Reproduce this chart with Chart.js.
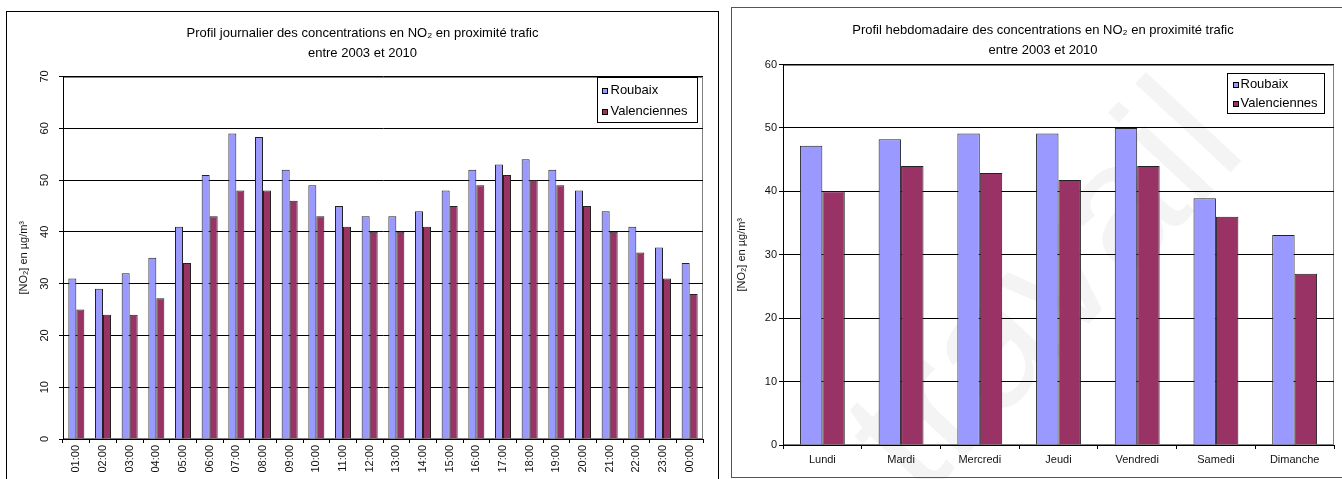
<!DOCTYPE html>
<html>
<head>
<meta charset="utf-8">
<script src="https://cdn.jsdelivr.net/npm/chart.js@4/dist/chart.umd.min.js"></script>
<style>
  html, body { margin:0; padding:0; background:#fff; width:1342px; height:479px; overflow:hidden; position:relative; }
  .box { position:absolute; background:transparent; z-index:1; }
  #boxL { left:6px; top:11px; width:711px; height:480px; border:1px solid #000; }
  #boxR { left:731px; top:7px; width:622px; height:469px; border:1px solid #555; }
  canvas { display:block; }
  #wm { position:absolute; left:1040px; top:285px; transform:translate(-50%,-50%) rotate(-47deg);
        font:180px "Liberation Sans", Arial, sans-serif; color:rgba(0,0,0,0.045); z-index:0; white-space:nowrap; }
</style>
</head>
<body>
<div id="wm">travail</div>
<div class="box" id="boxL"><canvas id="cL" width="711" height="480"></canvas></div>
<div class="box" id="boxR"><canvas id="cR" width="622" height="469"></canvas></div>
<script>
// ---------- data ----------
const hours = ['01:00','02:00','03:00','04:00','05:00','06:00','07:00','08:00','09:00','10:00','11:00','12:00',
               '13:00','14:00','15:00','16:00','17:00','18:00','19:00','20:00','21:00','22:00','23:00','00:00'];
const roubaixHourly      = [31,29,32,35,41,51,59,58.3,52,49,45,43,43,44,48,52,53,54,52,48,44,41,37,34];
const valenciennesHourly = [25,24,24,27.2,34,43,48,48,46,43,41,40,40,41,45,49,51,50,49,45,40,36,31,28];
const hourlyTicks = [0,10,20,30,40,50,60,70];

const days = ['Lundi','Mardi','Mercredi','Jeudi','Vendredi','Samedi','Dimanche'];
const roubaixWeekly      = [47.2,48.2,49.1,49.1,50,38.9,33.1];
const valenciennesWeekly = [40,44,42.9,41.8,44,36,27];
const weeklyTicks = [0,10,20,30,40,50,60];

const seriesNames = ['Roubaix','Valenciennes'];
const seriesColors = ['#9999FF','#993366'];

const titleDaily  = ['Profil journalier des concentrations en NO\u2082 en proximité trafic','entre 2003 et 2010'];
const titleWeekly = ['Profil hebdomadaire des concentrations en NO\u2082 en proximité trafic','entre 2003 et 2010'];
const yAxisTitle = '[NO\u2082] en µg/m³';

// ---------- plugins ----------
const FONT = "'Liberation Sans', Arial, sans-serif";

const plotFrame = {
  id:'plotFrame',
  beforeDraw(chart){
    const {ctx, chartArea:ca} = chart;
    ctx.save();
    ctx.strokeStyle = '#808080';
    ctx.lineWidth = 1;
    const l = Math.round(ca.left)+0.5, r = Math.round(ca.right)-0.5;
    const t = Math.round(ca.top)+0.5, b = Math.round(ca.bottom)-0.5;
    ctx.strokeRect(l, t, r-l, b-t);
    ctx.restore();
  }
};

const boxLegend = {
  id:'boxLegend',
  afterDraw(chart, args, o){
    if (!o || !o.show) return;
    const {ctx, chartArea:ca} = chart;
    const x = Math.round(ca.right - o.marginRight - o.width) + 0.5;
    const y = Math.round(ca.top + o.marginTop) + 0.5;
    ctx.save();
    ctx.fillStyle = '#fff';
    ctx.fillRect(x, y, o.width, o.height);
    ctx.strokeStyle = '#000';
    ctx.lineWidth = 1;
    ctx.strokeRect(x, y, o.width, o.height);
    ctx.font = '13px ' + FONT;
    ctx.textBaseline = 'middle';
    ctx.textAlign = 'left';
    const rows = [o.row1, o.row2];
    chart.data.datasets.forEach((ds, i) => {
      const cy = y + rows[i];
      const s = o.swatch;
      const sx = Math.round(x + o.swatchX), sy = Math.round(cy - s/2);
      ctx.fillStyle = ds.backgroundColor;
      ctx.fillRect(sx, sy, s, s);
      ctx.strokeStyle = '#000';
      ctx.strokeRect(sx+0.5, sy+0.5, s-1, s-1);
      ctx.fillStyle = '#000';
      ctx.fillText(ds.label, x + o.textX, cy);
    });
    ctx.restore();
  }
};

function datasets(a, b){
  return [a, b].map((vals, i) => ({
    label: seriesNames[i],
    data: vals,
    yAxisID: 'y',
    backgroundColor: seriesColors[i],
    borderColor: '#222',
    borderWidth: 1,
    borderSkipped: 'start'
  }));
}

function makeChart(id, cfg){
  return new Chart(document.getElementById(id), {
    type: 'bar',
    data: { labels: cfg.labels, datasets: datasets(cfg.a, cfg.b) },
    plugins: [plotFrame, boxLegend],
    options: {
      responsive: false,
      animation: false,
      events: [],
      datasets: { bar: { categoryPercentage: cfg.catPct, barPercentage: 1.0 } },
      layout: { padding: 0 },
      plugins: {
        legend: { display: false },
        tooltip: { enabled: false },
        title: {
          display: true, text: cfg.title, color: '#000',
          font: { family: FONT, size: 13, weight: 'normal', lineHeight: 20/13 },
          padding: { top: cfg.titleTop, bottom: cfg.titleBottom }
        },
        boxLegend: cfg.legend
      },
      scales: {
        x: {
          offset: true,
          grid: { display: true, drawOnChartArea: false, drawTicks: true, tickLength: 4, color: '#000', offset: true },
          border: { display: true, color: '#000', width: 1 },
          ticks: { font: { family: FONT, size: 11 }, color: '#111', autoSkip: false,
                   minRotation: cfg.xRot, maxRotation: cfg.xRot, padding: cfg.xPad },
          afterFit(s){ s.height = cfg.xHeight; }
        },
        y: {
          min: 0, max: cfg.yTicks[cfg.yTicks.length-1],
          afterBuildTicks(s){ s.ticks = cfg.yTicks.map(v => ({ value: v })); },
          grid: { color: '#000', lineWidth: 1, drawTicks: true, tickLength: 4 },
          border: { display: true, color: '#000', width: 1 },
          ticks: { font: { family: FONT, size: 11 }, color: '#111',
                   minRotation: cfg.yRot, maxRotation: cfg.yRot, crossAlign: cfg.yCross, padding: cfg.yPad },
          title: { display: true, text: yAxisTitle, color: '#111',
                   font: { family: FONT, size: 11 }, padding: { top: cfg.yTitlePad, bottom: 0 } },
          afterFit(s){ s.width = cfg.yWidth; }
        },
        rightGap: {
          type: 'linear', axis: 'y', position: 'right', display: true,
          grid: { display: false, drawTicks: false }, border: { display: false },
          ticks: { display: false },
          afterFit(s){ s.width = cfg.padRight; }
        }
      }
    }
  });
}

makeChart('cL', {
  labels: hours, a: roubaixHourly, b: valenciennesHourly, yTicks: hourlyTicks,
  title: titleDaily, titleTop: 11, titleBottom: 13.5,
  catPct: 0.6, padRight: 15,
  xRot: 90, xPad: 2, xHeight: 53,
  yRot: 90, yCross: 'center', yPad: 8, yWidth: 56, yTitlePad: 10.4,
  legend: { show: true, width: 100, height: 45, marginRight: 6, marginTop: 0, row1: 13, row2: 34, swatch: 6, swatchX: 4, textX: 13 }
});

makeChart('cR', {
  labels: days, a: roubaixWeekly, b: valenciennesWeekly, yTicks: weeklyTicks,
  title: titleWeekly, titleTop: 12, titleBottom: 4.5,
  catPct: 0.57, padRight: 20,
  xRot: 0, xPad: 4.4, xHeight: 32,
  yRot: 0, yCross: 'near', yPad: 2, yWidth: 51, yTitlePad: 3.4,
  legend: { show: true, width: 97, height: 40, marginRight: 10, marginTop: 8.5, row1: 11, row2: 30, swatch: 6, swatchX: 5, textX: 13 }
});
</script>
</body>
</html>
